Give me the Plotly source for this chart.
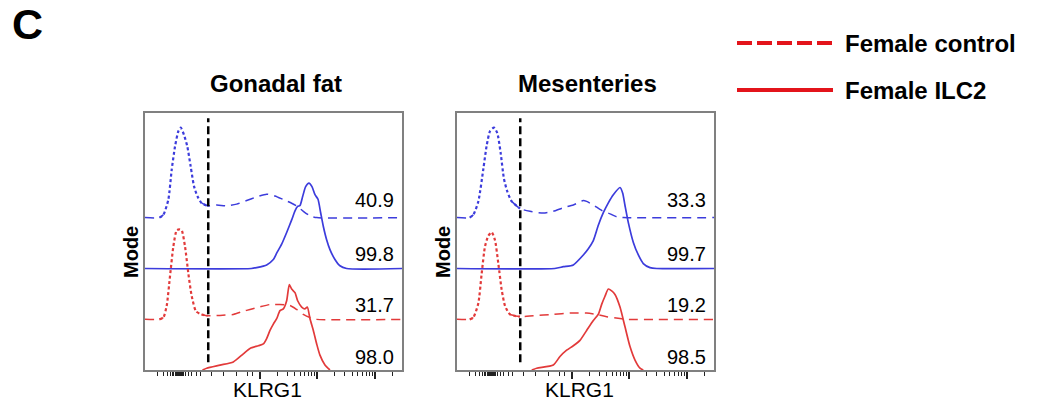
import numpy as np
import plotly.graph_objects as go

# KLRG1 display scale: 0 = low end of the axis, one unit per decade (2 -> 10^2, 3 -> 10^3, 4 -> 10^4)
# Histogram heights are % of mode.

# ---- Gonadal fat ----
gf_blue_ctrl_x = [0, 0.25, 0.319, 0.406, 0.464, 0.522, 0.58, 0.621, 0.678, 0.736, 0.794, 0.852, 0.91, 0.986,
                  1.09, 1.246, 1.42, 1.594, 1.768, 1.942, 2.116, 2.261, 2.406, 2.551, 2.638, 2.754, 2.87, 2.986, 4.47]
gf_blue_ctrl_y = [0, 0, 3, 20, 53, 79, 96, 100, 92, 79, 57, 35, 24, 16,
                  13, 14, 13, 15, 19, 23, 26, 24, 20, 16, 13, 7, 2, 0, 0]

gf_blue_ilc2_x = [0, 1.85, 1.942, 2.116, 2.232, 2.29, 2.377, 2.464, 2.551, 2.609, 2.655, 2.696, 2.742, 2.794,
                  2.852, 2.904, 2.957, 3.009, 3.055, 3.101, 3.159, 3.217, 3.304, 3.391, 3.507, 4.47]
gf_blue_ilc2_y = [0, 0, 1, 4, 10, 17, 27, 40, 54, 64, 69, 70, 80, 91,
                  95, 91, 82, 77, 62, 47, 32, 21, 10, 3, 0, 0]

gf_red_ctrl_x = [0, 0.25, 0.319, 0.377, 0.435, 0.493, 0.551, 0.597, 0.638, 0.696, 0.754, 0.812, 0.887, 0.986,
                 1.09, 1.304, 1.536, 1.71, 1.826, 2.0, 2.174, 2.348, 2.522, 2.638, 2.754, 2.87, 2.986, 4.47]
gf_red_ctrl_y = [0, 0, 2, 15, 48, 81, 99, 100, 99, 81, 51, 26, 9, 5.5,
                 4, 4.4, 5.5, 9, 11, 14, 16.5, 16.5, 15.4, 11, 5.5, 2, 0, 0]

gf_red_ilc2_x = [1.0, 1.073, 1.304, 1.536, 1.71, 1.826, 1.971, 2.058, 2.116, 2.174, 2.232, 2.29, 2.348, 2.406,
                 2.464, 2.51, 2.551, 2.609, 2.655, 2.725, 2.783, 2.823, 2.87, 2.928, 2.986, 3.043, 3.13, 3.217]
gf_red_ilc2_y = [0, 2, 5.5, 9, 18, 24, 27, 29, 35, 44, 51, 57, 66, 68,
                 77, 95, 90, 86, 77, 70, 68, 70, 57, 44, 29, 16.5, 5.5, 0]

gf_percent = ["40.9", "99.8", "31.7", "98.0"]

# ---- Mesenteries ----
me_blue_ctrl_x = [0, 0.22, 0.284, 0.371, 0.458, 0.516, 0.574, 0.643, 0.701, 0.759, 0.817, 0.875, 0.951,
                  1.096, 1.27, 1.501, 1.675, 1.849, 2.023, 2.197, 2.255, 2.371, 2.516, 2.632, 2.777, 2.893, 4.47]
me_blue_ctrl_y = [0, 0, 3, 18, 54, 80, 96, 100, 94, 72, 43, 29, 18,
                  10, 7, 5, 7, 11, 14, 19, 18, 14, 8, 5, 1, 0, 0]

me_blue_ilc2_x = [0, 1.7, 1.849, 2.023, 2.197, 2.284, 2.371, 2.458, 2.545, 2.632, 2.719, 2.835, 2.881,
                  2.922, 2.98, 3.067, 3.154, 3.24, 3.357, 3.473, 4.47]
me_blue_ilc2_y = [0, 0, 2, 4, 15, 22, 31, 48, 62, 73, 82, 90, 84,
                  70, 51, 29, 15, 5.5, 1, 0, 0]

me_red_ctrl_x = [0, 0.22, 0.284, 0.371, 0.429, 0.487, 0.545, 0.603, 0.661, 0.719, 0.777, 0.835, 0.922,
                 1.096, 1.327, 1.675, 1.965, 2.255, 2.43, 2.603, 2.835, 2.951, 4.47]
me_red_ctrl_y = [0, 0, 2, 18, 51, 81, 93, 97, 88, 62, 33, 15, 5.5,
                 3, 4, 5.5, 7, 7, 5.5, 3, 1, 0, 0]

me_red_ilc2_x = [1.3, 1.386, 1.675, 1.791, 1.907, 2.023, 2.139, 2.255, 2.371, 2.458, 2.516, 2.574, 2.632,
                 2.69, 2.748, 2.835, 2.922, 3.009, 3.096, 3.183, 3.24]
me_red_ilc2_y = [0, 2, 5.5, 15, 22, 27, 33, 44, 55, 62, 73, 82, 90,
                 88, 84, 70, 48, 26, 11, 2, 0]

me_percent = ["33.3", "99.7", "19.2", "98.5"]

panel_titles = ["Gonadal fat", "Mesenteries"]
x_title = "KLRG1"
y_title = "Mode"
gate_klrg1 = 1.1          # KLRG1 gate position
legend_labels = ["Female control", "Female ILC2"]

# ---- styling ----
BLUE = "#3c3cdc"
RED = "#e23a3a"
LEGEND_RED = "#e3141b"
FONT = "Liberation Sans, Arial, sans-serif"
TRACK_OFFSET = [59.3, 39.5, 19.7, 0.0]   # vertical offset of each stacked histogram
LABEL_LIFT = [6.8, 5.8, 5.5, 5.0]         # percentage label height above each track
TRACK_SCALE = 0.35                        # y units per % of mode
DOT_RANGE = (0.28, 1.0)                   # control curves drawn dotted across their low peak
X_RANGE = [0, 4.47]
W, H = 1047, 405

panels = [
    dict(tracks=[(gf_blue_ctrl_x, gf_blue_ctrl_y, BLUE, True, "Control (blue)"),
                 (gf_blue_ilc2_x, gf_blue_ilc2_y, BLUE, False, "ILC2 (blue)"),
                 (gf_red_ctrl_x, gf_red_ctrl_y, RED, True, legend_labels[0]),
                 (gf_red_ilc2_x, gf_red_ilc2_y, RED, False, legend_labels[1])],
         percent=gf_percent, px=(145, 402)),
    dict(tracks=[(me_blue_ctrl_x, me_blue_ctrl_y, BLUE, True, "Control (blue)"),
                 (me_blue_ilc2_x, me_blue_ilc2_y, BLUE, False, "ILC2 (blue)"),
                 (me_red_ctrl_x, me_red_ctrl_y, RED, True, legend_labels[0]),
                 (me_red_ilc2_x, me_red_ilc2_y, RED, False, legend_labels[1])],
         percent=me_percent, px=(457, 714)),
]

# axis ticks: log decades plus the compressed low end of the scale
major_ticks = [2, 3, 4]
minor_ticks = ([d + np.log10(k) for d in (2, 3) for k in range(2, 10)] + [4 + np.log10(2)] +
               [1.165, 1.357, 1.6, 1.774, 1.878] +
               [0.226, 0.313, 0.383, 0.435, 0.47, 0.504, 0.696, 0.748, 0.817, 0.887, 0.957] +
               list(np.arange(0.53, 0.67, 0.006)))   # dense cluster around zero


def split(xs, ys, lo, hi):
    """Cut a curve into pieces left of, inside and right of [lo, hi]."""
    xs, ys = np.asarray(xs, float), np.asarray(ys, float)
    left = xs <= lo
    mid = (xs >= lo) & (xs <= hi)
    right = xs >= hi

    def grow(mask):
        idx = np.where(mask)[0]
        if len(idx) == 0:
            return mask
        m = mask.copy()
        m[max(idx[0] - 1, 0)] = True
        m[min(idx[-1] + 1, len(xs) - 1)] = True
        return m
    return [(xs[grow(m)], ys[grow(m)]) for m in (left, mid, right)]


fig = go.Figure()
y_bot, y_top = 35 / H, 292 / H
shapes, annotations = [], []

for i, p in enumerate(panels):
    xa = "x" if i == 0 else f"x{i + 1}"
    ya = "y" if i == 0 else f"y{i + 1}"
    for k, (xs, ys, color, is_ctrl, name) in enumerate(p["tracks"]):
        off = TRACK_OFFSET[k]
        if is_ctrl:
            pieces = split(xs, ys, *DOT_RANGE)
            styles = [("9px,6px", 1.5), ("3px,2.5px", 2.2), ("9px,6px", 1.5)]
            for (px_, py_), (dash, wid) in zip(pieces, styles):
                fig.add_trace(go.Scatter(
                    x=px_, y=off + py_ * TRACK_SCALE, mode="lines", name=name,
                    line=dict(color=color, width=wid, dash=dash, shape="spline", smoothing=0.6),
                    xaxis=xa, yaxis=ya, showlegend=False, hoverinfo="skip"))
        else:
            fig.add_trace(go.Scatter(
                x=xs, y=[off + v * TRACK_SCALE for v in ys], mode="lines", name=name,
                line=dict(color=color, width=1.7, shape="spline", smoothing=0.6),
                xaxis=xa, yaxis=ya, showlegend=False, hoverinfo="skip"))

    # gate
    shapes.append(dict(type="line", xref=xa, yref=ya, x0=gate_klrg1, x1=gate_klrg1, y0=3, y1=98,
                       line=dict(color="black", width=2.5, dash="8px,4px")))

    # percentages in the gate
    for k, txt in enumerate(p["percent"]):
        annotations.append(dict(xref=xa, yref=ya, x=4.0, y=TRACK_OFFSET[k] + LABEL_LIFT[k], text=txt,
                                showarrow=False, xanchor="center", yanchor="middle",
                                font=dict(family=FONT, size=20, color="black")))

    x0, x1 = p["px"]
    cx = (x0 + x1) / 2
    annotations.append(dict(xref="paper", yref="paper", x=(cx + 2) / W, y=(H - 83) / H,
                            text=f"<b>{panel_titles[i]}</b>", showarrow=False,
                            xanchor="center", yanchor="middle",
                            font=dict(family=FONT, size=24, color="black")))
    annotations.append(dict(xref="paper", yref="paper", x=(cx - 6) / W, y=(H - 389) / H,
                            text=x_title, showarrow=False, xanchor="center", yanchor="middle",
                            font=dict(family=FONT, size=21, color="black")))
    annotations.append(dict(xref="paper", yref="paper", x=(x0 - 14) / W, y=(H - 252) / H,
                            text=f"<b>{y_title}</b>", showarrow=False, textangle=-90,
                            xanchor="center", yanchor="middle",
                            font=dict(family=FONT, size=20, color="black")))

    axis_common = dict(showgrid=False, zeroline=False, showline=True, mirror=True,
                       linecolor="#808080", linewidth=1.5)
    fig.update_layout(**{
        ("xaxis" if i == 0 else f"xaxis{i + 1}"): dict(
            domain=[x0 / W, x1 / W], range=X_RANGE, anchor=ya,
            tickmode="array", tickvals=major_ticks, ticks="outside", ticklen=7, tickwidth=1.5,
            tickcolor="#222", showticklabels=False,
            minor=dict(tickmode="array", tickvals=minor_ticks, ticks="outside", ticklen=4,
                       tickwidth=1, tickcolor="#222", showgrid=False),
            **axis_common),
        ("yaxis" if i == 0 else f"yaxis{i + 1}"): dict(
            domain=[y_bot, y_top], range=[0, 100], anchor=xa, showticklabels=False, ticks="",
            **axis_common),
    })

# panel letter
annotations.append(dict(xref="paper", yref="paper", x=27 / W, y=(H - 24) / H, text="<b>C</b>",
                        showarrow=False, xanchor="center", yanchor="middle",
                        font=dict(family=FONT, size=43, color="black")))

# legend
for j, (label, dash) in enumerate(zip(legend_labels, ["15px,5px", "solid"])):
    ly = [43, 90][j]
    shapes.append(dict(type="line", xref="paper", yref="paper", x0=737 / W, x1=833 / W,
                       y0=(H - ly) / H, y1=(H - ly) / H,
                       line=dict(color=LEGEND_RED, width=4, dash=dash)))
    annotations.append(dict(xref="paper", yref="paper", x=843 / W, y=(H - ly - 1) / H,
                            text=f"<b>{label}</b>", showarrow=False, xanchor="left", yanchor="middle",
                            font=dict(family=FONT, size=24, color="black")))

fig.update_layout(width=W, height=H, margin=dict(l=0, r=0, t=0, b=0),
                  paper_bgcolor="white", plot_bgcolor="white",
                  shapes=shapes, annotations=annotations, showlegend=False)

fig.write_html("out.html")
